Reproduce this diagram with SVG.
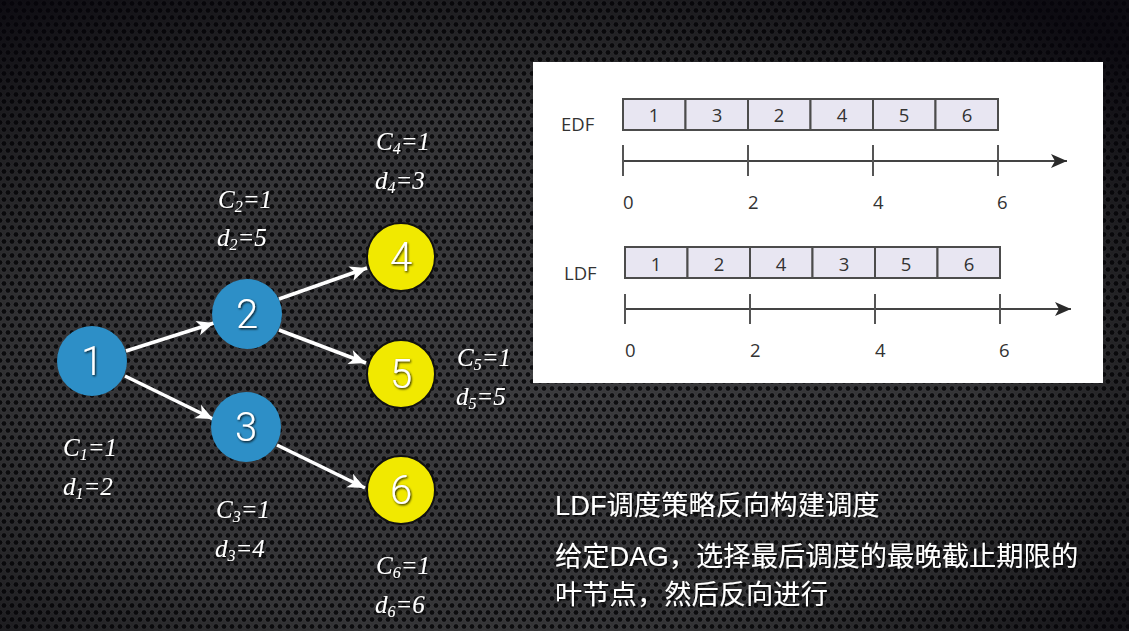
<svg xmlns="http://www.w3.org/2000/svg" width="1129" height="631" viewBox="0 0 1129 631">
  <defs>
    <!-- perforated metal backdrop -->
    <pattern id="holes" width="8" height="14" patternUnits="userSpaceOnUse">
      <rect width="8" height="14" fill="#3a3a3c"/>
      <circle cx="4" cy="3.5" r="2.9" fill="#0e0e10" stroke="#525256" stroke-width="0.7"/>
      <circle cx="0" cy="10.5" r="2.9" fill="#0e0e10" stroke="#525256" stroke-width="0.7"/>
      <circle cx="8" cy="10.5" r="2.9" fill="#0e0e10" stroke="#525256" stroke-width="0.7"/>
    </pattern>
    <radialGradient id="vignette" cx="0.45" cy="0.6" r="0.75">
      <stop offset="0" stop-color="#000" stop-opacity="0"/>
      <stop offset="0.55" stop-color="#000" stop-opacity="0.12"/>
      <stop offset="1" stop-color="#05030a" stop-opacity="0.85"/>
    </radialGradient>
    <filter id="shadow" x="-20%" y="-20%" width="140%" height="140%">
      <feDropShadow dx="1" dy="1.2" stdDeviation="0.8" flood-color="#000" flood-opacity="0.9"/>
    </filter>
    <marker id="arrow" markerUnits="userSpaceOnUse" markerWidth="22" markerHeight="18" viewBox="-18 -9 22 18" refX="0" refY="0" orient="auto">
      <path d="M0,0 L-17,-7.5 L-12.5,0 L-17,7.5 Z" fill="#fff"/>
    </marker>
    <marker id="axisArrow" markerUnits="userSpaceOnUse" markerWidth="20" markerHeight="16" viewBox="-16 -8 20 16" refX="0" refY="0" orient="auto">
      <path d="M0,0 L-16,-7 L-12,0 L-16,7 Z" fill="#2a2a2a"/>
    </marker>
  </defs>
  <style>
    .blue { fill: #2d8fc7; }
    .yellow { fill: #f1e900; stroke: #111; stroke-width: 2; }
    .num { font-family: Roboto, "Liberation Sans", sans-serif; font-weight: 300; font-size: 40px; fill: #fff; text-anchor: middle; filter: url(#shadow); }
    .lbl { font-family: "Liberation Serif", serif; font-style: italic; font-size: 25px; fill: #fff; filter: url(#shadow); }
    .sub { font-size: 16px; }
    .edge { stroke: #fff; stroke-width: 3.5; fill: none; marker-end: url(#arrow); }
    .cell { fill: #e8e6f2; stroke: #4c4c4c; stroke-width: 2; }
    .chart { font-family: "Open Sans", "Noto Sans", sans-serif; font-size: 18.5px; fill: #333; }
    .mid { text-anchor: middle; }
    .axis { stroke: #444; stroke-width: 2; fill: none; }
    .tick { stroke: #555; stroke-width: 2; }
    .note { font-family: "Liberation Sans", "Noto Sans CJK SC", sans-serif; font-size: 27.3px; fill: #fff; filter: url(#shadow); }
  </style>

  <!-- backdrop -->
  <rect width="1129" height="631" fill="url(#holes)"/>
  <rect width="1129" height="631" fill="url(#vignette)"/>

  <!-- connectors -->
  <g id="edges">
    <line class="edge" x1="126" y1="351" x2="214" y2="323"/>
    <line class="edge" x1="125" y1="376" x2="213" y2="419"/>
    <line class="edge" x1="279" y1="299" x2="367" y2="268"/>
    <line class="edge" x1="279" y1="330" x2="366" y2="363"/>
    <line class="edge" x1="277" y1="445" x2="365" y2="488"/>
  </g>

  <!-- task nodes -->
  <g id="node1">
    <circle class="blue" cx="92" cy="361" r="35"/>
    <text class="num" x="92" y="375">1</text>
  </g>
  <g id="node2">
    <circle class="blue" cx="247" cy="314" r="35"/>
    <text class="num" x="247" y="328">2</text>
  </g>
  <g id="node3">
    <circle class="blue" cx="246" cy="427" r="35"/>
    <text class="num" x="246" y="441">3</text>
  </g>
  <g id="node4">
    <circle class="yellow" cx="401" cy="257" r="34"/>
    <text class="num" x="401" y="271">4</text>
  </g>
  <g id="node5">
    <circle class="yellow" cx="401" cy="374" r="34"/>
    <text class="num" x="401" y="388">5</text>
  </g>
  <g id="node6">
    <circle class="yellow" cx="401" cy="490" r="34"/>
    <text class="num" x="401" y="504">6</text>
  </g>

  <!-- cost / deadline labels -->
  <g id="labels">
    <text class="lbl" x="63" y="456">C<tspan class="sub" dy="4">1</tspan><tspan dy="-4">=1</tspan></text>
    <text class="lbl" x="63" y="495">d<tspan class="sub" dy="4">1</tspan><tspan dy="-4">=2</tspan></text>
    <text class="lbl" x="218" y="208">C<tspan class="sub" dy="4">2</tspan><tspan dy="-4">=1</tspan></text>
    <text class="lbl" x="217" y="246">d<tspan class="sub" dy="4">2</tspan><tspan dy="-4">=5</tspan></text>
    <text class="lbl" x="216" y="518">C<tspan class="sub" dy="4">3</tspan><tspan dy="-4">=1</tspan></text>
    <text class="lbl" x="215" y="557">d<tspan class="sub" dy="4">3</tspan><tspan dy="-4">=4</tspan></text>
    <text class="lbl" x="376" y="150">C<tspan class="sub" dy="4">4</tspan><tspan dy="-4">=1</tspan></text>
    <text class="lbl" x="375" y="189">d<tspan class="sub" dy="4">4</tspan><tspan dy="-4">=3</tspan></text>
    <text class="lbl" x="457" y="366">C<tspan class="sub" dy="4">5</tspan><tspan dy="-4">=1</tspan></text>
    <text class="lbl" x="456" y="405">d<tspan class="sub" dy="4">5</tspan><tspan dy="-4">=5</tspan></text>
    <text class="lbl" x="376" y="574">C<tspan class="sub" dy="4">6</tspan><tspan dy="-4">=1</tspan></text>
    <text class="lbl" x="375" y="613">d<tspan class="sub" dy="4">6</tspan><tspan dy="-4">=6</tspan></text>
  </g>

  <!-- schedule charts -->
  <g id="schedules">
    <rect x="533" y="62" width="570" height="321" fill="#fff"/>

    <!-- EDF -->
    <text class="chart" x="561" y="131">EDF</text>
    <rect class="cell" x="623" y="99" width="62.5" height="31"/>
    <rect class="cell" x="685.5" y="99" width="62.5" height="31"/>
    <rect class="cell" x="748" y="99" width="62.5" height="31"/>
    <rect class="cell" x="810.5" y="99" width="62.5" height="31"/>
    <rect class="cell" x="873" y="99" width="62.5" height="31"/>
    <rect class="cell" x="935.5" y="99" width="62.5" height="31"/>
    <text class="chart mid" x="654" y="122">1</text>
    <text class="chart mid" x="717" y="122">3</text>
    <text class="chart mid" x="779" y="122">2</text>
    <text class="chart mid" x="842" y="122">4</text>
    <text class="chart mid" x="904" y="122">5</text>
    <text class="chart mid" x="967" y="122">6</text>
    <line class="axis" x1="623" y1="161" x2="1067" y2="161" marker-end="url(#axisArrow)"/>
    <line class="tick" x1="623" y1="145" x2="623" y2="176"/>
    <line class="tick" x1="748" y1="145" x2="748" y2="176"/>
    <line class="tick" x1="873" y1="145" x2="873" y2="176"/>
    <line class="tick" x1="998" y1="145" x2="998" y2="176"/>
    <text class="chart" x="623" y="209">0</text>
    <text class="chart" x="748" y="209">2</text>
    <text class="chart" x="873" y="209">4</text>
    <text class="chart" x="997" y="209">6</text>

    <!-- LDF -->
    <text class="chart" x="564" y="280">LDF</text>
    <rect class="cell" x="625" y="247" width="62.5" height="31"/>
    <rect class="cell" x="687.5" y="247" width="62.5" height="31"/>
    <rect class="cell" x="750" y="247" width="62.5" height="31"/>
    <rect class="cell" x="812.5" y="247" width="62.5" height="31"/>
    <rect class="cell" x="875" y="247" width="62.5" height="31"/>
    <rect class="cell" x="937.5" y="247" width="62.5" height="31"/>
    <text class="chart mid" x="656" y="271">1</text>
    <text class="chart mid" x="719" y="271">2</text>
    <text class="chart mid" x="781" y="271">4</text>
    <text class="chart mid" x="844" y="271">3</text>
    <text class="chart mid" x="906" y="271">5</text>
    <text class="chart mid" x="969" y="271">6</text>
    <line class="axis" x1="625" y1="309" x2="1071" y2="309" marker-end="url(#axisArrow)"/>
    <line class="tick" x1="625" y1="294" x2="625" y2="324"/>
    <line class="tick" x1="750" y1="294" x2="750" y2="324"/>
    <line class="tick" x1="875" y1="294" x2="875" y2="324"/>
    <line class="tick" x1="1000" y1="294" x2="1000" y2="324"/>
    <text class="chart" x="625" y="357">0</text>
    <text class="chart" x="750" y="357">2</text>
    <text class="chart" x="875" y="357">4</text>
    <text class="chart" x="999" y="357">6</text>
  </g>

  <!-- explanation -->
  <g id="notes">
    <text class="note" x="555" y="515">LDF调度策略反向构建调度</text>
    <text class="note" x="555" y="566">给定DAG，选择最后调度的最晚截止期限的</text>
    <text class="note" x="555" y="604">叶节点，然后反向进行</text>
  </g>
</svg>
